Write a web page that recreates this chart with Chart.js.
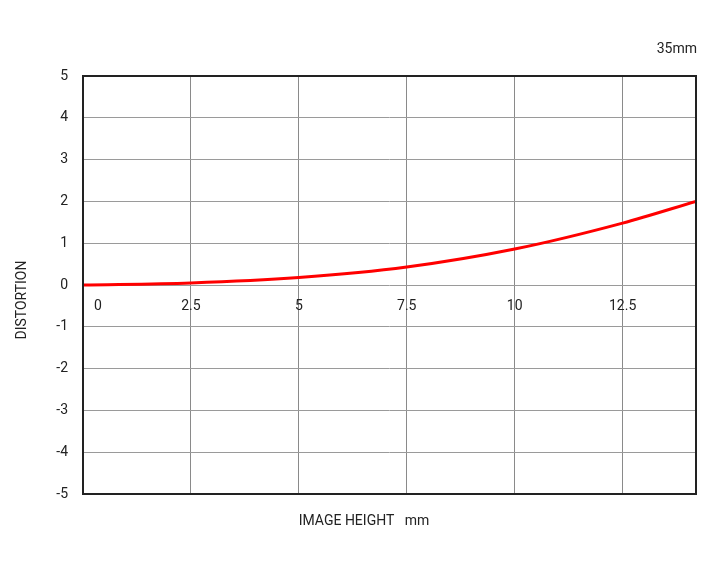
<!DOCTYPE html>
<html>
<head>
<meta charset="utf-8">
<script src="https://cdn.jsdelivr.net/npm/chart.js@4"></script>
<style>
  html, body { margin: 0; padding: 0; background: #fff; }
  #wrap { width: 720px; height: 570px; }
</style>
</head>
<body>
<div id="wrap"><canvas id="chart" width="720" height="570"></canvas></div>
<script>
// image height (mm) and distortion (%)
const imageHeight = [0, 2.5, 5, 7.5, 10, 12.5, 14.2];
const distortion = [0, 0.05, 0.18, 0.43, 0.86, 1.48, 2.0];
const xTicks = [0, 2.5, 5, 7.5, 10, 12.5];
const yTicks = [-5, -4, -3, -2, -1, 0, 1, 2, 3, 4, 5];

const font = "Roboto, 'Noto Sans', sans-serif";

const textPlugin = {
  id: 'texts',
  afterDraw(chart) {
    const c = chart.ctx;
    const a = chart.chartArea;
    const x = chart.scales.x;
    const y = chart.scales.y;
    c.save();
    // frame
    c.strokeStyle = '#222';
    c.lineWidth = 2;
    c.strokeRect(a.left, a.top, a.right - a.left, a.bottom - a.top);

    c.fillStyle = '#222';
    c.font = '14px ' + font;
    c.textBaseline = 'middle';
    c.textAlign = 'center';
    // x tick labels sit inside the plot, under the zero line
    const ly = y.getPixelForValue(0) + 21;
    xTicks.forEach(v => {
      let px = x.getPixelForValue(v);
      if (v === 0) px += 15;
      c.fillText(String(v), px, ly);
    });

    c.fillText('IMAGE HEIGHT   mm', 364, 521);
    c.textAlign = 'right';
    c.fillText('35mm', 697, 49);

    c.translate(22, 300);
    c.rotate(-Math.PI / 2);
    c.textAlign = 'center';
    c.fillText('DISTORTION', 0, 0);
    c.restore();
  }
};

new Chart(document.getElementById('chart'), {
  type: 'line',
  data: {
    datasets: [{
      data: imageHeight.map((v, i) => ({ x: v, y: distortion[i] })),
      borderColor: '#ff0000',
      borderWidth: 3,
      pointRadius: 0,
      cubicInterpolationMode: 'monotone',
      fill: false
    }]
  },
  options: {
    responsive: false,
    animation: false,
    layout: { padding: { top: 76, right: 24, left: 0, bottom: 0 } },
    plugins: {
      legend: { display: false },
      tooltip: { enabled: false }
    },
    scales: {
      x: {
        type: 'linear',
        min: 0,
        max: 14.2,
        afterBuildTicks: s => { s.ticks = xTicks.map(v => ({ value: v })); },
        afterFit: s => { s.height = 76; },
        grid: { color: '#8a8a8a', lineWidth: 1, drawTicks: false },
        border: { display: false },
        ticks: { display: false }
      },
      y: {
        min: -5,
        max: 5,
        afterBuildTicks: s => { s.ticks = yTicks.map(v => ({ value: v })); },
        afterFit: s => { s.width = 83; },
        grid: { color: '#9a9a9a', lineWidth: 1, drawTicks: false },
        border: { display: false },
        ticks: {
          color: '#222',
          padding: 15,
          font: { family: font, size: 14 }
        }
      }
    }
  },
  plugins: [textPlugin]
});
</script>
</body>
</html>
